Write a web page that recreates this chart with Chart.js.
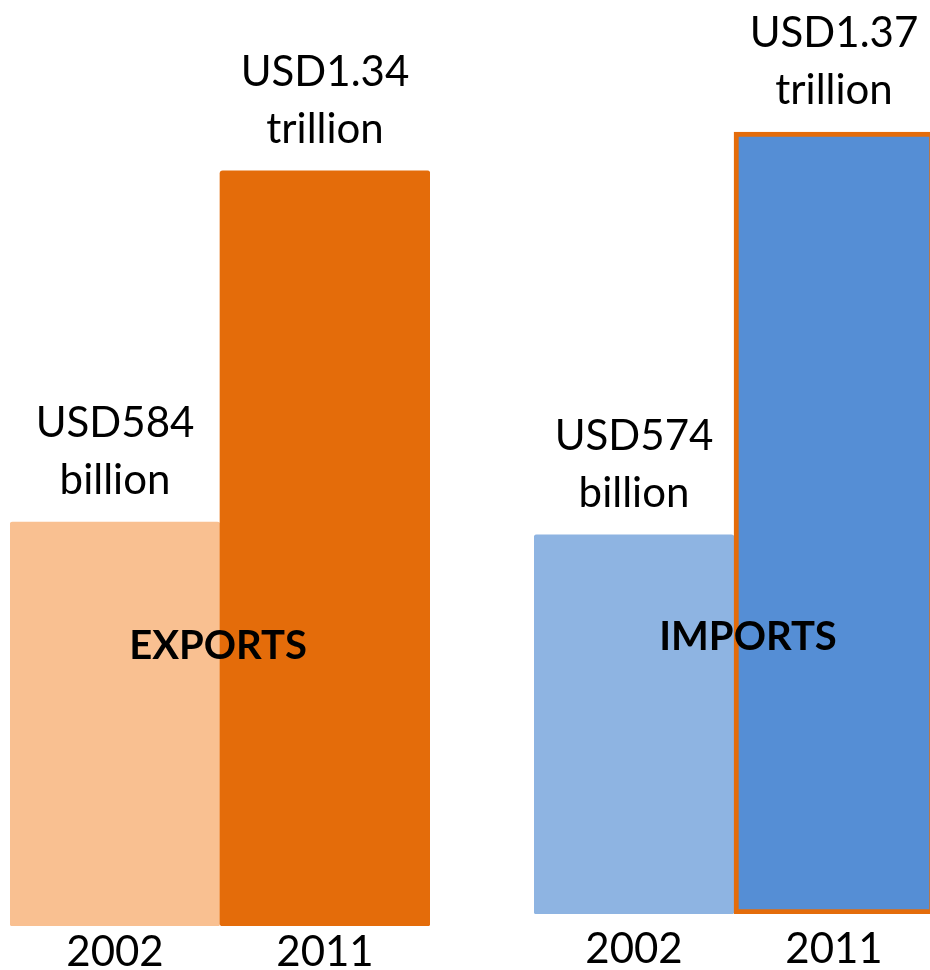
<!DOCTYPE html>
<html>
<head>
<meta charset="utf-8">
<script src="https://cdn.jsdelivr.net/npm/chart.js@4"></script>
<style>
  html, body { margin: 0; padding: 0; background: #fff; overflow: hidden; }
  #wrap { position: relative; width: 930px; height: 970px; overflow: hidden; }
  canvas { position: absolute; top: 0; }
  #exportsChart { left: 0; }
  #importsChart { left: 520px; }
</style>
</head>
<body>
<div id="wrap">
  <canvas id="exportsChart" width="460" height="970"></canvas>
  <canvas id="importsChart" width="430" height="970"></canvas>
</div>
<script>
const years = ["2002", "2011"];
const exportsUsdBn = [584, 1340];
const importsUsdBn = [574, 1370];

const exportsColors = ["#F9C091", "#E46C0A"];
const importsColors = ["#8EB4E2", "#558ED5"];

const FONT = "Lato, 'Open Sans', sans-serif";

function usdText(v) {
  if (v >= 1000) return ["USD" + (v / 1000).toFixed(2), "trillion"];
  return ["USD" + v, "billion"];
}

// value text above each bar + panel name across the pair
const barText = {
  id: "barText",
  afterDatasetsDraw(chart, args, opts) {
    const ctx = chart.ctx;
    const meta = chart.getDatasetMeta(0);
    const values = chart.data.datasets[0].data;
    ctx.save();
    ctx.fillStyle = "#000";
    ctx.textAlign = "center";
    ctx.textBaseline = "alphabetic";
    ctx.font = "42px " + FONT;
    meta.data.forEach((bar, i) => {
      const lines = usdText(values[i]);
      ctx.fillText(lines[1], bar.x, bar.y - 28);
      ctx.fillText(lines[0], bar.x, bar.y - 28 - 57);
    });
    ctx.font = "bold 40px " + FONT;
    ctx.textBaseline = "middle";
    const ca = chart.chartArea;
    ctx.fillText(opts.name, (ca.left + ca.right) / 2 + opts.shift, opts.y);
    ctx.restore();
  }
};

function panel(id, values, colors, borders, yMin, yMax, pad, axisH, tickPad, name, nameY, shift) {
  return new Chart(document.getElementById(id), {
    type: "bar",
    data: {
      labels: years,
      datasets: [{
        data: values,
        backgroundColor: colors,
        borderColor: "#E46C0A",
        borderWidth: borders,
        borderSkipped: false,
        borderRadius: borders.map(b => (b ? 0 : 3)),
        base: yMin,
        categoryPercentage: 1,
        barPercentage: 1
      }]
    },
    options: {
      responsive: false,
      devicePixelRatio: 1,
      animation: false,
      layout: { padding: pad },
      plugins: {
        legend: { display: false },
        tooltip: { enabled: false },
        barText: { name: name, y: nameY, shift: shift }
      },
      scales: {
        x: {
          grid: { display: false },
          border: { display: false },
          afterFit: (scale) => { scale.height = axisH; },
          ticks: {
            color: "#000",
            padding: tickPad,
            font: { family: FONT, size: 42, lineHeight: 1 }
          }
        },
        y: { display: false, min: yMin, max: yMax }
      }
    },
    plugins: [barText]
  });
}

panel("exportsChart", exportsUsdBn, exportsColors, [0, 0], -286, 1708,
  { left: 10, right: 30, top: 0, bottom: 0 }, 44, -3, "EXPORTS", 646, -2);
panel("importsChart", importsUsdBn, importsColors, [0, 5], -175, 1631,
  { left: 14, right: 16, top: 0, bottom: 0 }, 56, 6, "IMPORTS", 637, 14);
</script>
</body>
</html>
